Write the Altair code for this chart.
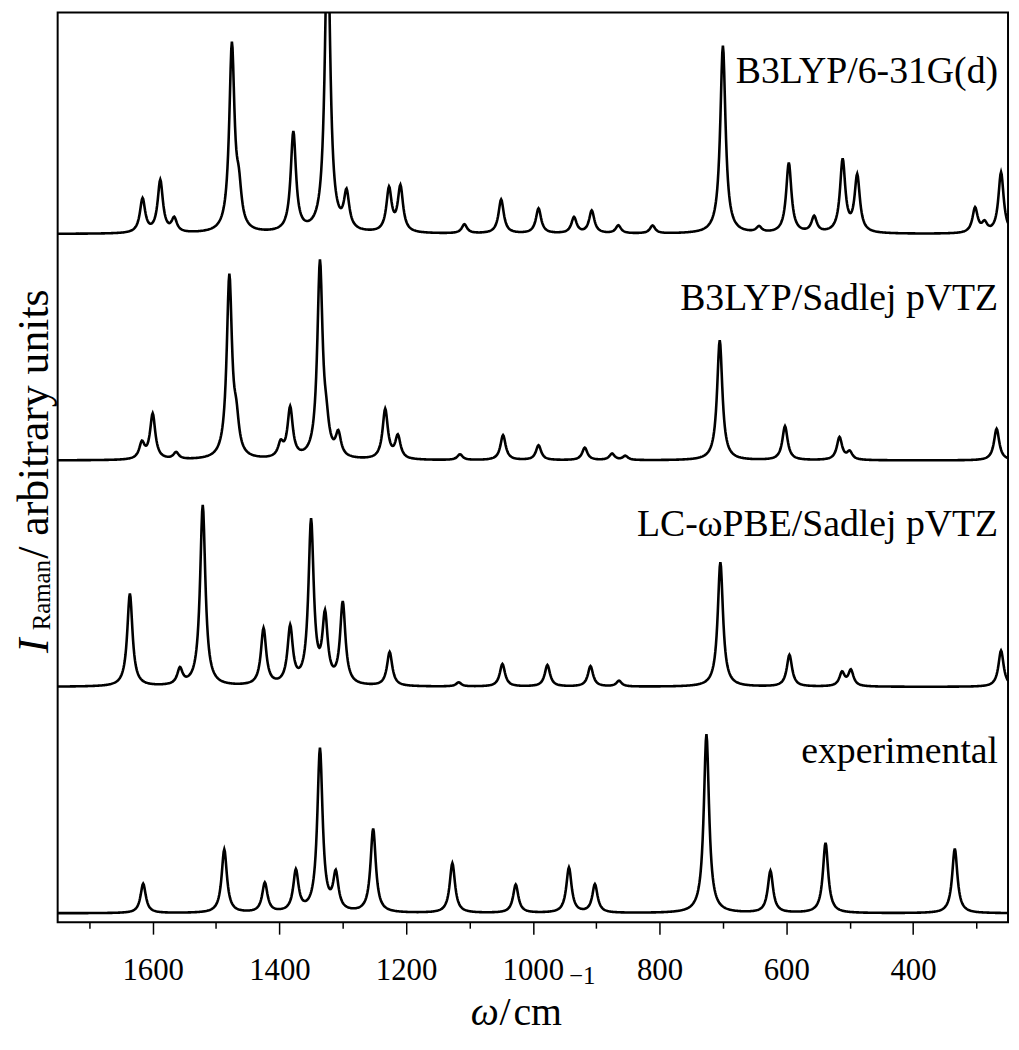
import altair as alt
import numpy as np
import pandas as pd

# ---------------- data ----------------
methods = ["B3LYP/6-31G(d)", "B3LYP/Sadlej pVTZ", "LC-ωPBE/Sadlej pVTZ", "experimental"]
offsets = [3, 2, 1, 0]

# peak positions (cm^-1) and peak intensities (arbitrary units)
b3_631_pos = [1616, 1588, 1566, 1475, 1464, 1378, 1324, 1294, 1227, 1209, 1108, 1050, 991, 935, 907,
              865, 811, 700, 643, 596, 556, 511, 488, 302, 287, 261]
b3_631_int = [0.15, 0.23, 0.06, 0.82, 0.15, 0.44, 1.35, 0.16, 0.19, 0.20, 0.04, 0.15, 0.11, 0.07, 0.10,
              0.035, 0.035, 0.83, 0.025, 0.31, 0.07, 0.32, 0.25, 0.11, 0.04, 0.27]

b3_sad_pos = [1617, 1600, 1563, 1479, 1468, 1398, 1383, 1336, 1326, 1307, 1233, 1213, 1115, 1047, 991,
              918, 875, 854, 705, 602, 516, 500, 268]
b3_sad_int = [0.07, 0.20, 0.03, 0.80, 0.13, 0.06, 0.22, 0.86, 0.10, 0.10, 0.22, 0.10, 0.025, 0.11, 0.065,
              0.055, 0.028, 0.018, 0.53, 0.15, 0.10, 0.035, 0.14]

lc_sad_pos = [1636, 1557, 1521, 1425, 1383, 1350, 1328, 1300, 1226, 1117, 1048, 977, 909, 864, 704,
              595, 512, 498, 261]
lc_sad_int = [0.41, 0.07, 0.80, 0.25, 0.25, 0.72, 0.29, 0.36, 0.15, 0.018, 0.10, 0.095, 0.09, 0.025, 0.55,
              0.14, 0.06, 0.07, 0.16]

exp_pos = [1615, 1487, 1423, 1374, 1336, 1311, 1252, 1127, 1027, 943, 902, 726, 625, 538, 334]
exp_int = [0.13, 0.28, 0.13, 0.18, 0.72, 0.16, 0.37, 0.22, 0.125, 0.20, 0.125, 0.79, 0.185, 0.31, 0.285]

peak_lists = [(b3_631_pos, b3_631_int), (b3_sad_pos, b3_sad_int),
              (lc_sad_pos, lc_sad_int), (exp_pos, exp_int)]

x_ticks = list(range(300, 1800, 100))

# ---------------- Lorentzian broadening of the stick spectra ----------------
hwhm = 5.0
grid = np.arange(250, 1751, 1.0)


def broaden(pos, inten):
    p = np.asarray(pos, dtype=float)[:, None]
    a = np.asarray(inten, dtype=float)[:, None]
    return (a * hwhm ** 2 / ((grid[None, :] - p) ** 2 + hwhm ** 2)).sum(axis=0)


frames = []
for name, off, (pos, inten) in zip(methods, offsets, peak_lists):
    frames.append(pd.DataFrame({"w": grid, "I": np.round(broaden(pos, inten) + off, 4), "method": name}))
spec = pd.concat(frames, ignore_index=True)

labels = pd.DataFrame({"method": methods, "offset": offsets})

# ---------------- chart ----------------
W, H = 957, 916
FONT = "Liberation Serif"

xscale = alt.Scale(domain=[250, 1750], reverse=True, nice=False, zero=False)
yscale = alt.Scale(domain=[-0.0395, 3.978], nice=False, zero=False)

lines = alt.Chart(spec).mark_line(color="black", strokeWidth=2.6, clip=True).encode(
    x=alt.X("w:Q", scale=xscale, title=None,
            axis=alt.Axis(values=x_ticks, format="d",
                          labelExpr="datum.value % 200 === 0 ? datum.label : ''",
                          tickSize={"condition": {"test": "datum.value % 200 === 0", "value": 12}, "value": 6},
                          tickColor="black", tickWidth=1.5, domain=False, grid=False,
                          labelFont=FONT, labelFontSize=31, labelColor="black",
                          labelPadding=22, labelFlush=False, labelOverlap=False)),
    y=alt.Y("I:Q", scale=yscale, axis=None),
    detail="method:N",
)

panel_text = alt.Chart(labels).transform_calculate(ly="datum.offset + 0.665").mark_text(
    font=FONT, fontSize=38, align="right", baseline="alphabetic", color="black"
).encode(
    x=alt.value(W - 10),
    y=alt.Y("ly:Q", scale=yscale, axis=None),
    text="method:N",
)

one = pd.DataFrame({"k": [0]})


def txt(s, x, y, size, style="normal", angle=0):
    mk = alt.Chart(one).mark_text(text=s, font=FONT, fontSize=size, fontStyle=style,
                                  align="left", baseline="alphabetic", color="black",
                                  angle=angle)
    return mk.encode(x=alt.value(x), y=alt.value(y))


# y-axis title: I_Raman / arbitrary units (rotated)
ytitle = [
    txt("I", -10, 645, 44, "italic", 270),
    txt("Raman", -8, 622, 25, "normal", 270),
    txt("/ arbitrary units", -10, 550, 44, "normal", 270),
]
# x-axis title: omega / cm^-1
xtitle = [
    txt("ω", 416, 1019, 40, "italic"),
    txt("/", 445, 1019, 40),
    txt("cm", 459, 1019, 40),
    txt("−1", 515, 978, 25),
]

chart = alt.layer(lines, panel_text, *ytitle, *xtitle).properties(
    width=W, height=H,
    padding={"left": 50, "top": 1, "right": 3, "bottom": 120},
    autosize=alt.AutoSizeParams(type="none"),
).configure_view(stroke="black", strokeWidth=2)

chart.save("out.html", embed_options={"renderer": "svg", "actions": False})
